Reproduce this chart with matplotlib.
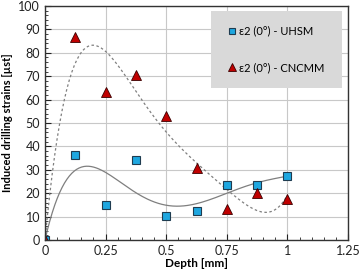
import numpy as np
import matplotlib.pyplot as plt
from matplotlib.patches import Rectangle
from matplotlib.ticker import MultipleLocator

depth = [0, 0.125, 0.25, 0.375, 0.5, 0.625, 0.75, 0.875, 1.0]
uhsm = [0, 36.2, 15.0, 34.3, 10.2, 12.2, 23.5, 23.4, 27.4]
cncmm = [0, 86.8, 63.1, 70.6, 52.8, 30.9, 13.2, 19.9, 17.4]
labels = ["ε2 (0°) - UHSM", "ε2 (0°) - CNCMM"]


def trend(x, y, deg):
    # polynomial trendline through the origin (Excel style)
    x = np.asarray(x)
    A = np.column_stack([x ** k for k in range(1, deg + 1)])
    coef, *_ = np.linalg.lstsq(A, np.asarray(y), rcond=None)
    xs = np.linspace(0, 1, 200)
    return xs, sum(c * xs ** (k + 1) for k, c in enumerate(coef))


plt.rcParams['font.family'] = ['Lato', 'DejaVu Sans']
fig = plt.figure(figsize=(3.63, 2.69), dpi=100)
ax = fig.add_axes([45 / 363, 29 / 269, 303 / 363, 234 / 269])

xs, ys = trend(depth, uhsm, 5)
ax.plot(xs, ys, color='#7f7f7f', lw=0.9)
xs, ys = trend(depth, cncmm, 5)
ax.plot(xs, ys, color='#7f7f7f', lw=0.9, ls=(0, (2, 2)))

ax.plot(depth, uhsm, 's', ms=6, mfc='#1ea7e0', mec='#1f3c50', mew=0.8,
        label=labels[0])
ax.plot(depth, cncmm, '^', ms=7, mfc='#c00000', mec='#3a0000', mew=0.6,
        label=labels[1])

ax.set_xlim(0, 1.25)
ax.set_ylim(0, 100)
ax.set_xticks([0, 0.25, 0.5, 0.75, 1, 1.25])
ax.set_xticklabels(['0', '0.25', '0.5', '0.75', '1', '1.25'])
ax.set_yticks(range(0, 101, 10))
ax.xaxis.set_minor_locator(MultipleLocator(0.05))
ax.yaxis.set_minor_locator(MultipleLocator(2))
ax.tick_params(which='both', direction='in', labelsize=9, colors='#222222')
ax.tick_params(which='major', length=4)
ax.tick_params(which='minor', length=2.5)
ax.grid(True, color='#c8c8c8', lw=0.8)
ax.set_axisbelow(True)
for s in ax.spines.values():
    s.set_color('#333333')
    s.set_linewidth(1.0)

ax.set_xlabel('Depth [mm]', fontsize=8.5, fontweight='bold', labelpad=1)
ax.set_ylabel('Induced drilling strains [µst]', fontsize=8, fontweight='bold',
              labelpad=4)

# grey legend panel
box = (0.548, 0.65, 0.432, 0.33)
ax.add_patch(Rectangle(box[:2], box[2], box[3], transform=ax.transAxes,
                       facecolor='#d9d9d9', edgecolor='none', zorder=4))
leg = ax.legend(loc='center', bbox_to_anchor=box, fontsize=8, frameon=False,
                labelspacing=2.3, handlelength=0.7, handletextpad=0.3,
                markerscale=0.8)
leg.set_zorder(5)

fig.savefig('out.png', dpi=100)
